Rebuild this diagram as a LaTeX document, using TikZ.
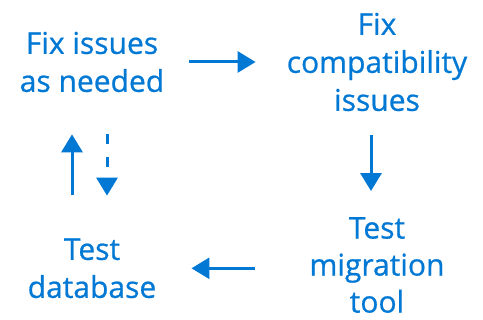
\documentclass[tikz,border=0pt]{standalone}
\usepackage{fontspec}
\setmainfont{Open Sans}
\newfontfamily\stepfont[FakeBold=0.7]{Open Sans}
\usetikzlibrary{arrows.meta, positioning}
\definecolor{msblue}{HTML}{0078D4}

\begin{document}
\begin{tikzpicture}[x=1pt, y=1pt,
  stepbox/.style={text=msblue, inner sep=0pt, align=center, font=\stepfont\fontsize{30}{38}\selectfont},
  arr/.style={-{Triangle[length=18pt, width=21pt]}, line width=3pt, msblue},
]
  \useasboundingbox (0,0) rectangle (483,320);

  \node[stepbox] (fixneeded) at (92, 258) {Fix issues\\as needed};
  \node[stepbox] (fixcompat) at (377, 258) {Fix\\compatibility\\issues};
  \node[stepbox, font=\stepfont\fontsize{30}{37}\selectfont] (testtool) at (377, 55) {Test\\migration\\tool};
  \node[stepbox] (testdb) at (92, 51.7) {Test\\database};

  \draw[arr, shorten <=25pt, shorten >=31pt] (fixneeded) -- (fixcompat);
  \draw[arr, shorten <=24pt, shorten >=25.9pt] ([xshift=-6pt]fixcompat.south) -- ([xshift=-6pt]testtool.north);
  \draw[arr, shorten <=54pt, shorten >=35pt] ([yshift=-3.3pt]testtool.west) -- ([yshift=-3.3pt]testtool.west -| testdb.east);

  % back and forth between testing and fixing
  \draw[arr, shorten <=43.6pt, shorten >=42pt] ([xshift=-20pt]testdb.north) -- ([xshift=-20pt]fixneeded.south);
  \draw[arr, dash pattern=on 10pt off 13pt, shorten <=42pt, shorten >=42.6pt] ([xshift=15pt]fixneeded.south) -- ([xshift=15pt]testdb.north);
\end{tikzpicture}
\end{document}
